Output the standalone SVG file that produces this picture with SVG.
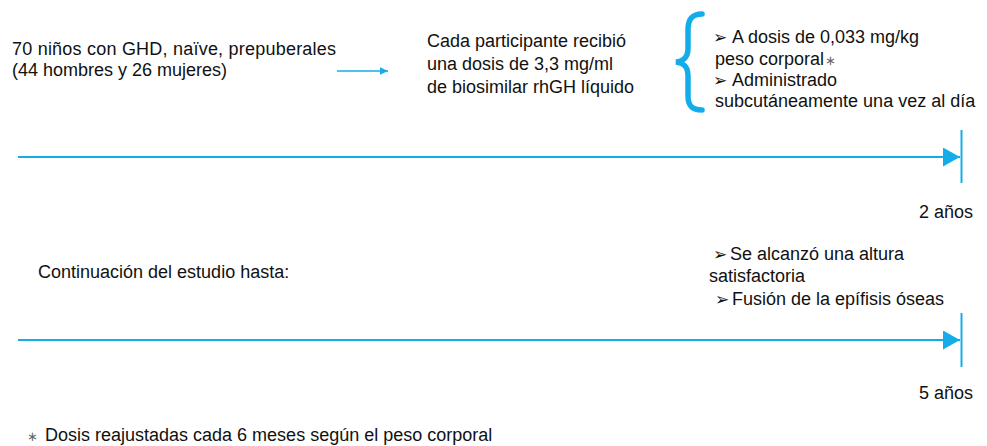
<svg xmlns="http://www.w3.org/2000/svg" width="987" height="446" viewBox="0 0 987 446">
<style>
text{font-family:"Liberation Sans",Arial,sans-serif;font-size:18px;fill:#111;}
.b{font-family:"DejaVu Sans",sans-serif;font-size:17px;fill:#111;}
.ast{font-family:"DejaVu Sans",sans-serif;font-size:13px;fill:#666;}
.ln{stroke:#14ADEA;fill:none;}
</style>
<defs>
<marker id="big" markerUnits="userSpaceOnUse" markerWidth="18" markerHeight="20" refX="17" refY="9.5" orient="auto"><path d="M0,0 L17,9.5 L0,19 Z" fill="#14ADEA"/></marker>
<marker id="sm" markerUnits="userSpaceOnUse" markerWidth="9" markerHeight="10" refX="8.5" refY="4" orient="auto"><path d="M0,0 L8.5,4 L0,8 Z" fill="#14ADEA"/></marker>
</defs>
<g id="connectors">
<line class="ln" x1="337" y1="71" x2="388" y2="71" stroke-width="1.3" marker-end="url(#sm)"/>
<line class="ln" x1="18" y1="157" x2="960" y2="157" stroke-width="2" marker-end="url(#big)"/>
<line class="ln" x1="961.5" y1="130" x2="961.5" y2="183" stroke-width="2"/>
<line class="ln" x1="18" y1="340" x2="960" y2="340" stroke-width="2" marker-end="url(#big)"/>
<line class="ln" x1="961.5" y1="313" x2="961.5" y2="367" stroke-width="2"/>
</g>
<g id="participants">
<text x="12" y="55" textLength="324">70 niños con GHD, naïve, prepuberales</text>
<text x="12" y="76">(44 hombres y 26 mujeres)</text>
</g>
<g id="dose">
<text x="427" y="47">Cada participante recibió</text>
<text x="427" y="70">una dosis de 3,3 mg/ml</text>
<text x="427" y="93">de biosimilar rhGH líquido</text>
</g>
<g id="brace">
<path class="ln" stroke-width="5.5" stroke-linecap="round" d="M702,14 C692,14 688,19 688,30 L688,48 C688,57 684,61 676,62 C684,63 688,67 688,76 L688,96 C688,106 692,110 702,110"/>
</g>
<g id="details">
<text class="b" x="713" y="43">➢</text><text x="732" y="43">A dosis de 0,033 mg/kg</text>
<text x="715" y="65">peso corporal<tspan class="ast" dx="1">∗</tspan></text>
<text class="b" x="713" y="86">➢</text><text x="732" y="86">Administrado</text>
<text x="715" y="107">subcutáneamente una vez al día</text>
</g>
<g id="t2">
<text x="973" y="218" text-anchor="end">2 años</text>
</g>
<g id="continuation">
<text x="38" y="278">Continuación del estudio hasta:</text>
</g>
<g id="criteria">
<text class="b" x="713" y="260">➢</text><text x="730" y="260">Se alcanzó una altura</text>
<text x="709" y="282">satisfactoria</text>
<text class="b" x="715" y="305">➢</text><text x="732" y="305">Fusión de la epífisis óseas</text>
</g>
<g id="t5">
<text x="973" y="399" text-anchor="end">5 años</text>
</g>
<g id="footnote">
<text class="ast" x="27" y="441">∗</text><text x="45" y="441">Dosis reajustadas cada 6 meses según el peso corporal</text>
</g>
</svg>
